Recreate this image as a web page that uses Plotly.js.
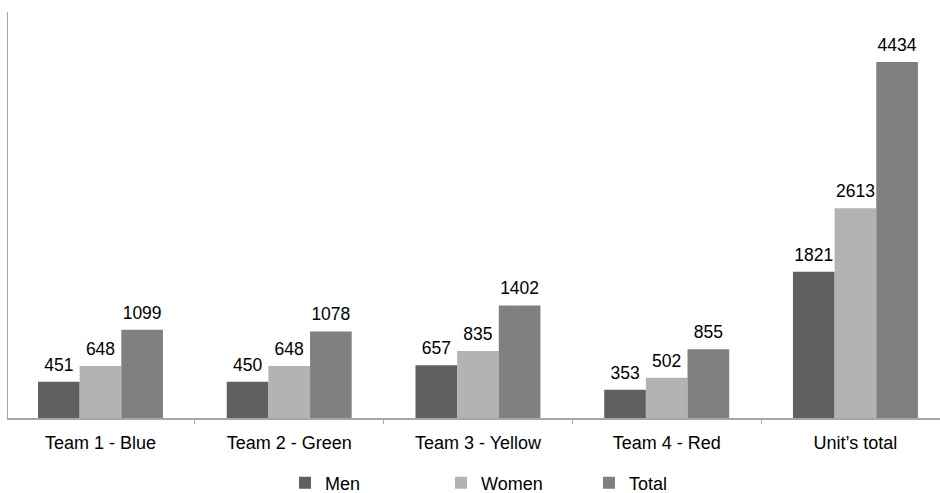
<!DOCTYPE html>
<html>
<head>
<meta charset="utf-8">
<script src="https://cdn.plot.ly/plotly-3.0.1.min.js"></script>
<style>
  html, body { margin: 0; padding: 0; background: #fff; }
  #chart { width: 940px; height: 493px; }
</style>
</head>
<body>
<div id="chart"></div>
<script>
// Headcount per team, split by gender
const categories = ['Team 1 - Blue', 'Team 2 - Green', 'Team 3 - Yellow', 'Team 4 - Red', 'Unit\u2019s total'];
const men   = [451, 450, 657, 353, 1821];
const women = [648, 648, 835, 502, 2613];
const total = [1099, 1078, 1402, 855, 4434];

const seriesNames  = ['Men', 'Women', 'Total'];
const seriesValues = [men, women, total];
const seriesColors = ['#606060', '#b3b3b3', '#808080'];
const legendIds    = ['legend', 'legend2', 'legend3'];
const legendX      = [0.2972, 0.4646, 0.6234];

const FONT = 'Liberation Sans, Arial, sans-serif';
const GAP = 0.338;

// bars
const barTraces = seriesValues.map((vals, i) => ({
  type: 'bar',
  name: seriesNames[i],
  legend: legendIds[i],
  x: categories,
  y: vals,
  marker: { color: seriesColors[i], line: { width: 0 } },
  hoverinfo: 'x+y+name'
}));

// value labels above each bar, grouped the same way as the bars
const labelTraces = seriesValues.map((vals, i) => ({
  type: 'scatter',
  mode: 'markers+text',
  showlegend: false,
  x: categories,
  y: vals,
  text: vals.map(String),
  textposition: 'top center',
  textfont: { family: FONT, size: 17.5, color: '#000' },
  marker: { size: 9, opacity: 0 },
  cliponaxis: false,
  hoverinfo: 'skip'
}));

const legendBase = {
  orientation: 'h',
  xanchor: 'left',
  yref: 'container',
  y: 0.0203,
  yanchor: 'middle',
  font: { family: FONT, size: 18, color: '#000' },
  bgcolor: 'rgba(0,0,0,0)',
  borderwidth: 0,
  itemclick: false,
  itemdoubleclick: false
};

const layout = {
  width: 940,
  height: 493,
  margin: { l: 8, r: 0, t: 12, b: 75, autoexpand: false },
  paper_bgcolor: '#fff',
  plot_bgcolor: '#fff',
  barmode: 'group',
  bargap: GAP,
  bargroupgap: 0,
  scattermode: 'group',
  scattergap: GAP,
  font: { family: FONT, size: 17.5, color: '#000' },
  xaxis: {
    type: 'category',
    range: [-0.49, 4.448],
    showline: true,
    linecolor: '#a6a6a6',
    linewidth: 1.5,
    ticks: 'outside',
    tickson: 'boundaries',
    ticklen: 4,
    tickcolor: '#a6a6a6',
    tickwidth: 1,
    showgrid: false,
    zeroline: false,
    tickfont: { family: FONT, size: 18, color: '#000' },
    ticklabelstandoff: 8
  },
  yaxis: {
    range: [0, 5056],
    showline: true,
    linecolor: '#a6a6a6',
    linewidth: 1.5,
    showticklabels: false,
    ticks: '',
    showgrid: false,
    zeroline: false
  },
  showlegend: true
};
legendIds.forEach((id, i) => {
  layout[id] = Object.assign({}, legendBase, { x: legendX[i] });
});

Plotly.newPlot('chart', barTraces.concat(labelTraces), layout, { displayModeBar: false, staticPlot: true });
</script>
</body>
</html>
